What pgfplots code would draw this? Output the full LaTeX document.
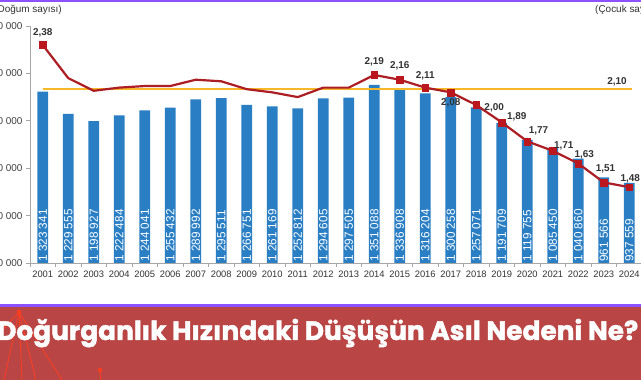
\documentclass[border=0pt]{standalone}
\usepackage{fontspec}
\setmainfont{Liberation Sans}
\newfontfamily\bannerfont{Poppins}[BoldFeatures={FakeBold=1.6}]
\usepackage{pgfplots}
\pgfplotsset{compat=1.18}
\usepackage{pgfplotstable}

\definecolor{barblue}{RGB}{42,126,196}
\definecolor{tfrred}{RGB}{172,30,36}
\definecolor{mkred}{RGB}{186,24,30}
\definecolor{repyellow}{RGB}{246,184,40}
\definecolor{txtgray}{RGB}{51,51,51}
\definecolor{tickgray}{RGB}{64,64,64}
\definecolor{axgray}{RGB}{166,166,166}
\definecolor{bannerred}{RGB}{185,69,69}
\definecolor{violetline}{RGB}{140,82,255}
\definecolor{deco}{RGB}{255,62,32}

\pgfplotstableread[col sep=comma]{
i,b,lab
0,1323341,1 323 341
1,1229555,1 229 555
2,1198927,1 198 927
3,1222484,1 222 484
4,1244041,1 244 041
5,1255432,1 255 432
6,1289992,1 289 992
7,1295511,1 295 511
8,1266751,1 266 751
9,1261169,1 261 169
10,1252812,1 252 812
11,1294605,1 294 605
12,1297505,1 297 505
13,1351088,1 351 088
14,1336908,1 336 908
15,1316204,1 316 204
16,1300258,1 300 258
17,1257071,1 257 071
18,1191709,1 191 709
19,1119755,1 119 755
20,1085450,1 085 450
21,1040860,1 040 860
22,961566,961 566
23,937559,937 559
}\births

\pgfplotstableread{
i t
0 2.38
1 2.17
2 2.09
3 2.11
4 2.12
5 2.12
6 2.16
7 2.15
8 2.10
9 2.08
10 2.05
11 2.11
12 2.11
13 2.19
14 2.16
15 2.11
16 2.08
17 2.00
18 1.89
19 1.77
20 1.71
21 1.63
22 1.51
23 1.48
}\tfr

\pgfplotstableread{
i t lab dx dy
0 2.38 2,38 0 9.7
13 2.19 2,19 0 10.4
14 2.16 2,16 0 11.4
15 2.11 2,11 0 9.4
16 2.08 2,08 0 -13.1
17 2.00 2,00 18 -5.6
18 1.89 1,89 15 2.4
19 1.77 1,77 11.3 7.4
20 1.71 1,71 11 2.4
21 1.63 1,63 6 6.4
22 1.51 1,51 1.7 11
23 1.48 1,48 1 5.7
}\tfrlab

\begin{document}
\begin{tikzpicture}
\useasboundingbox (0,0) rectangle (641bp,380bp);
\clip (0,0) rectangle (641bp,380bp);
\fill[white] (0,0) rectangle (641bp,380bp);
\fill[violetline] (0,378bp) rectangle (641bp,380bp);
% banner
\fill[bannerred] (0,0) rectangle (641bp,74bp);
\fill[violetline] (0,73.3bp) rectangle (641bp,75.5bp);
\begin{scope}[deco, line width=0.8bp]
\draw (19bp,68bp) -- (0bp,47bp);
\draw (19bp,68bp) -- (4bp,0bp);
\draw (19bp,68bp) -- (22bp,0bp);
\draw (19bp,68bp) -- (36bp,0bp);
\draw (19bp,68bp) -- (62bp,0bp);
\fill (19bp,68bp) circle (2.2bp);
\draw (100bp,10bp) -- (100bp,0bp);
\fill (100bp,10bp) circle (2.2bp);
\end{scope}
\node[text=white, inner sep=0pt, anchor=base west] at (-3bp,40bp)
  {\resizebox{641bp}{!}{\bannerfont\bfseries\fontsize{20}{24}\selectfont Doğurganlık Hızındaki Düşüşün Asıl Nedeni Ne?}};
% header texts
\node[anchor=east, inner sep=0pt, text=txtgray, font=\fontsize{10}{12}\selectfont] at (62bp,370bp) {(Doğum sayısı)};
\node[anchor=west, inner sep=0pt, text=txtgray, font=\fontsize{10}{12}\selectfont] at (595bp,370bp) {(Çocuk sayısı)};

\begin{axis}[
  at={(30bp,117bp)}, anchor=south west, scale only axis,
  width=612bp, height=237bp,
  xmin=-0.5, xmax=23.5, ymin=600000, ymax=1600000,
  axis x line*=bottom, axis y line*=left,
  axis line style={draw=axgray, line width=0.8bp, -},
  tick align=outside, major tick length=4bp,
  tick style={draw=axgray, line width=0.8bp},
  scaled y ticks=false, scaled x ticks=false,
  xtick={-0.5,0.5,...,23.5}, xticklabels={},
  extra x ticks={0,1,...,23},
  extra x tick labels={2001,2002,2003,2004,2005,2006,2007,2008,2009,2010,2011,2012,2013,2014,2015,2016,2017,2018,2019,2020,2021,2022,2023,2024},
  extra x tick style={major tick length=0pt},
  xticklabel style={font=\fontsize{9.4}{11}\selectfont, text=txtgray, yshift=-4bp},
  ytick={600000,800000,1000000,1200000,1400000,1600000},
  yticklabels={600 000,800 000,1 000 000,1 200 000,1 400 000,1 600 000},
  yticklabel style={font=\fontsize{10}{12}\selectfont, text=tickgray},
]
\addplot[ybar, bar width=10.8bp, fill=barblue, draw=none] table[x=i,y=b]{\births};
\addplot[draw=none, nodes near coords, point meta=explicit symbolic,
  every node near coord/.append style={rotate=90, anchor=west, inner sep=0pt,
    text=white, font=\fontsize{11.8}{12}\selectfont}]
  table[x=i, y expr=604500, meta=lab]{\births};
\end{axis}

\begin{axis}[
  at={(30bp,117bp)}, anchor=south west, scale only axis,
  width=612bp, height=237bp,
  xmin=-0.5, xmax=23.5, ymin=1, ymax=2.5,
  hide axis, clip=false,
]
\addplot[repyellow, line width=2.6bp] coordinates {(0,2.10) (23.1,2.10)};
\addplot[draw=none, nodes near coords, point meta=explicit symbolic,
  every node near coord/.append style={anchor=base, yshift=4.7, inner sep=0pt,
    text=txtgray, font=\bfseries\fontsize{10}{12}\selectfont}]
  table[row sep=\\, x=x, y=y, meta=lab]{x y lab\\ 22.52 2.10 2,10\\};
\addplot[tfrred, line width=2.2bp, line join=round] table[x=i,y=t]{\tfr};
\addplot[only marks, mark=square*, mark size=3.4bp, mark options={fill=mkred, draw=mkred}]
  table[x=i,y=t]{\tfrlab};
\addplot[draw=none, nodes near coords, point meta=explicit symbolic,
  visualization depends on={\thisrow{dx}\as\dx},
  visualization depends on={\thisrow{dy}\as\dy},
  every node near coord/.append style={anchor=base, xshift=\dx, yshift=\dy, inner sep=0pt,
    text=txtgray, font=\bfseries\fontsize{10}{12}\selectfont}]
  table[x=i,y=t,meta=lab]{\tfrlab};
\end{axis}
\end{tikzpicture}
\end{document}
